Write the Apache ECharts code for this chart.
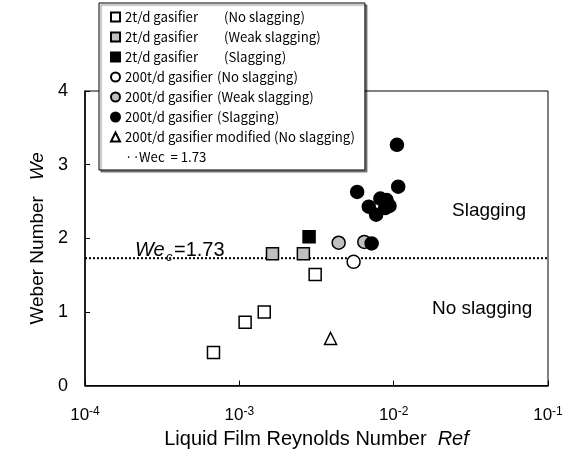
<!DOCTYPE html>
<html>
<head>
<meta charset="utf-8">
<script src="https://cdn.jsdelivr.net/npm/echarts@6/dist/echarts.min.js"></script>
<style>html,body{margin:0;padding:0;background:#fff}#c{width:571px;height:454px}</style>
</head>
<body>
<div id="c"></div>
<script>
// ---- data ----
const xTickExponents = [-4, -3, -2, -1];
const yTicks = [0, 1, 2, 3, 4];
const wecValue = 1.73;

const noSlag2X = [6.8e-4, 1.09e-3, 1.45e-3, 3.1e-3];
const noSlag2Y = [0.45, 0.86, 1.0, 1.51];
const weak2X = [1.64e-3, 2.6e-3];
const weak2Y = [1.79, 1.79];
const slag2X = [2.83e-3];
const slag2Y = [2.02];
const noSlag200X = [5.5e-3];
const noSlag200Y = [1.68];
const weak200X = [4.4e-3, 6.45e-3];
const weak200Y = [1.94, 1.95];
const slag200X = [7.2e-3, 1.05e-2, 1.07e-2, 5.8e-3, 6.9e-3, 7.7e-3, 8.2e-3, 9.0e-3, 9.4e-3, 8.8e-3];
const slag200Y = [1.93, 3.27, 2.70, 2.63, 2.43, 2.32, 2.54, 2.52, 2.44, 2.41];
const modifiedX = [3.9e-3];
const modifiedY = [0.64];

const seriesNames = [
  '2t/d gasifier (No slagging)',
  '2t/d gasifier (Weak slagging)',
  '2t/d gasifier (Slagging)',
  '200t/d gasifier (No slagging)',
  '200t/d gasifier (Weak slagging)',
  '200t/d gasifier (Slagging)',
  '200t/d gasifier modified (No slagging)',
  'Wec  = 1.73'
];

function pts(xs, ys) { return xs.map((x, i) => [x, ys[i]]); }

const chart = echarts.init(document.getElementById('c'), null, {renderer: 'canvas'});
const AX = 'Liberation Sans, Arial, sans-serif';
const LG = 'Noto Sans CJK JP, sans-serif';
const LFS = 13.2;

function scatter(name, data, symbol, size, fill) {
  return {
    name, type: 'scatter', data, symbol, symbolSize: size,
    itemStyle: {color: fill, borderColor: '#000', borderWidth: 1.5, opacity: 1},
    emphasis: {disabled: true}
  };
}

const option = {
  animation: false,
  backgroundColor: '#fff',
  grid: {left: 85, right: 23, top: 91, bottom: 67, show: true, borderColor: '#000', borderWidth: 1, backgroundColor: 'transparent'},
  xAxis: {
    type: 'log', logBase: 10,
    min: Math.pow(10, xTickExponents[0]), max: Math.pow(10, xTickExponents[xTickExponents.length - 1]),
    name: '{n|Liquid Film Reynolds Number}{i|  Ref}',
    nameLocation: 'middle', nameGap: 41,
    nameTextStyle: {rich: {n: {fontFamily: AX, fontSize: 20, color: '#000'}, i: {fontFamily: AX, fontSize: 20, fontStyle: 'italic', color: '#000'}}},
    axisLine: {lineStyle: {color: '#000', width: 1.5}},
    axisTick: {inside: true, length: 5, lineStyle: {color: '#000'}},
    minorTick: {show: false},
    splitLine: {show: false},
    axisLabel: {
      margin: 20,
      formatter: v => '{b|10}{s|' + Math.round(Math.log10(v)) + '}',
      rich: {
        b: {fontFamily: AX, fontSize: 17, color: '#000'},
        s: {fontFamily: AX, fontSize: 12, color: '#000', verticalAlign: 'top', padding: [0, 0, 8, 0]}
      }
    }
  },
  yAxis: {
    type: 'value', min: yTicks[0], max: yTicks[yTicks.length - 1], interval: 1,
    name: '{n|Weber Number}{i|   We}',
    nameLocation: 'middle', nameGap: 36, nameRotate: 90,
    nameTextStyle: {rich: {n: {fontFamily: AX, fontSize: 19, color: '#000'}, i: {fontFamily: AX, fontSize: 19, fontStyle: 'italic', color: '#000'}}},
    axisLine: {show: true, lineStyle: {color: '#000', width: 1.5}},
    axisTick: {show: true, inside: true, length: 5, lineStyle: {color: '#000'}},
    splitLine: {show: false},
    axisLabel: {margin: 17, fontFamily: AX, fontSize: 18, color: '#000'}
  },
  legend: {
    orient: 'vertical', left: 99, top: 3,
    padding: [7, 10, 6, 11],
    itemGap: 6, itemWidth: 9, itemHeight: 9,
    backgroundColor: '#fff', borderColor: '#000', borderWidth: 1,
    shadowColor: 'rgba(0,0,0,0.45)', shadowOffsetX: 2, shadowOffsetY: 2, shadowBlur: 1,
    selectedMode: false,
    textStyle: {fontFamily: LG, fontSize: LFS, color: '#000', lineHeight: 14,
      rich: {
        a: {fontFamily: LG, fontSize: LFS, width: 99, lineHeight: 14, color: '#000'},
        c: {fontFamily: LG, fontSize: LFS, width: 92, lineHeight: 14, color: '#000'},
        b: {fontFamily: LG, fontSize: LFS, lineHeight: 14, color: '#000'},
        d: {fontFamily: LG, fontSize: LFS, width: 14, lineHeight: 14, color: '#000'}
      }
    },
    data: seriesNames.slice(0, 7).concat([{name: seriesNames[7], icon: 'rect', itemStyle: {color: 'rgba(0,0,0,0)', borderWidth: 0}}]),
    formatter: name => {
      if (name === seriesNames[7]) return '{d|···}{b|' + name + '}';
      if (name === seriesNames[6]) return '{b|' + name + '}';
      const k = name.lastIndexOf(' (');
      const head = name.slice(0, k), tail = name.slice(k + 1);
      return (head.indexOf('200') === 0 ? '{c|' : '{a|') + head + '}{b|' + tail + '}';
    }
  },
  series: [
    scatter(seriesNames[0], pts(noSlag2X, noSlag2Y), 'rect', 12, '#fff'),
    scatter(seriesNames[1], pts(weak2X, weak2Y), 'rect', 12, '#bfbfbf'),
    scatter(seriesNames[2], pts(slag2X, slag2Y), 'rect', 12, '#000'),
    scatter(seriesNames[3], pts(noSlag200X, noSlag200Y), 'circle', 13, '#fff'),
    scatter(seriesNames[4], pts(weak200X, weak200Y), 'circle', 13, '#bfbfbf'),
    scatter(seriesNames[5], pts(slag200X, slag200Y), 'circle', 13, '#000'),
    scatter(seriesNames[6], pts(modifiedX, modifiedY), 'triangle', 12, '#fff'),
    {
      name: seriesNames[7], type: 'line', symbol: 'none', z: 1,
      data: [[Math.pow(10, xTickExponents[0]), wecValue], [Math.pow(10, xTickExponents[3]), wecValue]],
      lineStyle: {color: '#000', width: 2, type: [2, 2]},
      emphasis: {disabled: true}
    }
  ],
  graphic: [
    {type: 'text', left: 135, top: 240, style: {text: 'We', font: 'italic 20px ' + AX, fill: '#000'}},
    {type: 'text', left: 166, top: 251, style: {text: 'c', font: 'italic 13px ' + AX, fill: '#000'}},
    {type: 'text', left: 174, top: 240, style: {text: '=' + wecValue.toFixed(2), font: '20px ' + AX, fill: '#000'}},
    {type: 'text', left: 452, top: 201, style: {text: 'Slagging', font: '19px ' + AX, fill: '#000'}},
    {type: 'text', left: 432, top: 299, style: {text: 'No slagging', font: '19px ' + AX, fill: '#000'}}
  ]
};
chart.setOption(option);
</script>
</body>
</html>
